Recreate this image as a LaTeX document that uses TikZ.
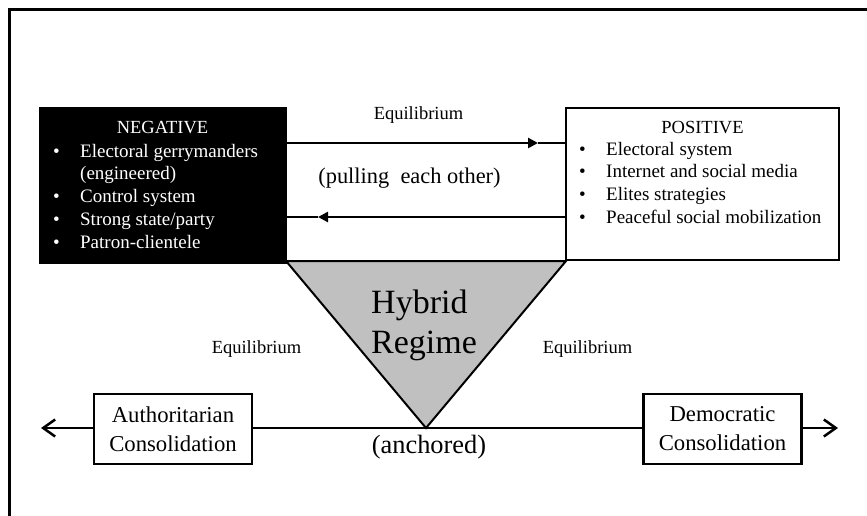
\documentclass[tikz,border=0pt]{standalone}
\usepackage{fontspec}
\setmainfont{Liberation Serif}
\usetikzlibrary{arrows.meta}
\definecolor{hybgray}{RGB}{192,192,192}
\begin{document}
\begin{tikzpicture}[x=1pt,y=-1pt,
  framestyle/.style={line width=3pt,line cap=rect},
  negbox/.style={draw=black,fill=black,line width=1pt,inner sep=0pt,minimum width=247pt,minimum height=156pt},
  posbox/.style={draw=black,fill=white,line width=2.5pt,inner sep=0pt,minimum width=273pt,minimum height=152pt},
  consbox/.style={draw=black,fill=white,line width=2.5pt,inner sep=0pt,minimum width=158pt,minimum height=70pt,align=center,font=\fontsize{22.7}{29}\selectfont},
  listtxt/.style={inner sep=0pt,anchor=base west,font=\fontsize{19}{22.8}\selectfont},
  titletxt/.style={inner sep=0pt,anchor=base,font=\fontsize{18.5}{22.8}\selectfont},
  eqtxt/.style={inner sep=0pt,anchor=base,font=\fontsize{18.5}{20}\selectfont},
  conn/.style={line width=2.5pt},
  tri/.style={fill=hybgray,draw=black,line width=2pt,line join=miter},
  barb/.style={-{Straight Barb[length=12pt,width=17pt,line width=2.5pt]}},
  filltip/.style={-{Triangle[length=10pt,width=10pt]}}
]
\useasboundingbox (0,0) rectangle (867,515);
% frame
\draw[framestyle] (9,520) -- (9,9) -- (870,9);

% triangle
\coordinate (tl) at (286,261);
\coordinate (tr) at (566,261);
\coordinate (tb) at (426,428);
\draw[tri] (tl) -- (tr) -- (tb) -- cycle;

% boxes
\node[negbox] (neg) at (162.5,185) {};
\node[posbox] (pos) at (702.5,184) {};
\node[consbox] (auth) at (173,429) {Authoritarian\\Consolidation};
\node[consbox] (dem) at (722.5,429) {Democratic\\Consolidation};

% negative content
\node[titletxt,text=white] (negt) at (162.5,133) {NEGATIVE};
\node[listtxt,text=white] (negl) at (53,157) {\begin{tabular}[t]{@{}p{27pt}@{}l@{}}
\textbullet & Electoral gerrymanders\\
 & (engineered)\\
\textbullet & Control system\\
\textbullet & Strong state/party\\
\textbullet & Patron-clientele
\end{tabular}};

% positive content
\node[titletxt] (post) at (702.5,133) {POSITIVE};
\node[listtxt] (posl) at (579,155) {\begin{tabular}[t]{@{}p{27pt}@{}l@{}}
\textbullet & Electoral system\\
\textbullet & Internet and social media\\
\textbullet & Elites strategies\\
\textbullet & Peaceful social mobilization
\end{tabular}};

% arrows between boxes
\coordinate (a1) at (538,143);
\coordinate (a2) at (318,217);
\draw[conn,filltip] (neg.east |- a1) -- (a1);
\draw[conn] (a1) -- (pos.west |- a1);
\draw[conn,filltip] (pos.west |- a2) -- (a2);
\draw[conn] (a2) -- (neg.east |- a2);

% bottom line
\coordinate (lt) at (41,428);
\coordinate (rt) at (838,428);
\draw[conn,barb] (auth.west |- lt) -- (lt);
\draw[conn] (auth.east |- lt) -- (dem.west |- lt);
\draw[conn,barb] (dem.east |- rt) -- (rt);

% labels
\node[eqtxt] (eqtop) at (418.5,119) {Equilibrium};
\node[eqtxt] (eql) at (256.5,353) {Equilibrium};
\node[eqtxt] (eqr) at (587.5,353) {Equilibrium};
\node[inner sep=0pt,anchor=base,font=\fontsize{22.4}{26}\selectfont] (pull) at (409.5,183) {(pulling\ \ each other)};
\node[inner sep=0pt,anchor=base west,font=\fontsize{34}{40}\selectfont] (hyb) at (371,313) {\begin{tabular}[t]{@{}l@{}}Hybrid\\Regime\end{tabular}};
\node[inner sep=0pt,anchor=base,font=\fontsize{26.4}{30}\selectfont] (anch) at (429,453) {(anchored)};
\end{tikzpicture}
\end{document}
